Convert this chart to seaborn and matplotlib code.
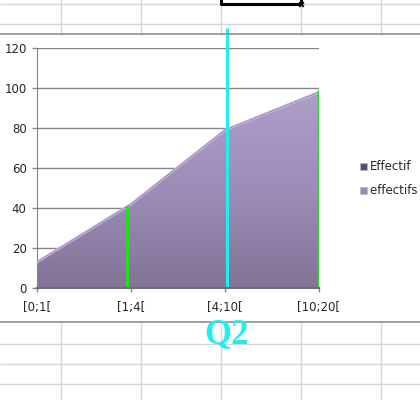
import numpy as np
import pandas as pd
import seaborn as sns
import matplotlib.pyplot as plt
from matplotlib.lines import Line2D
from matplotlib.patches import Rectangle, Polygon
from matplotlib.colors import LinearSegmentedColormap

# data
classes = ["[0;1[", "[1;4[", "[4;10[", "[10;20["]
effectifs_cumules = [13, 42, 79, 98]
legend_labels = ["Effectif", "effectifs cumulés"]

sns.set_style("white")
plt.rcParams["font.family"] = ["DejaVu Sans"]

W, H = 420, 400
fig = plt.figure(figsize=(W / 100, H / 100), dpi=100)
fig.patch.set_facecolor("white")

def fx(px):
    return px / W

def fy(py):
    return 1 - py / H

# spreadsheet grid around the chart object
grid_col = "#d6d6d6"
for y in [4, 24, 344, 364, 384]:
    fig.add_artist(Line2D([0, 1], [fy(y), fy(y)], color=grid_col, lw=1))
for x in [61, 141, 221, 301, 381]:
    for y0, y1 in [(0, 34), (322, 400)]:
        fig.add_artist(Line2D([fx(x), fx(x)], [fy(y0), fy(y1)], color=grid_col, lw=1))
# chart area borders
for y in [34, 322]:
    fig.add_artist(Line2D([0, 1], [fy(y), fy(y)], color="#8e8e8e", lw=1.2))
# selected cell
fig.add_artist(Line2D([fx(221), fx(221), fx(301), fx(301)], [fy(-2), fy(4), fy(4), fy(-2)],
                      color="black", lw=2.2))
fig.add_artist(Rectangle((fx(299), fy(6)), 4 / W, 4 / H, color="black", transform=fig.transFigure))

ax = fig.add_axes([fx(37), fy(288), 282 / W, 240 / H])
ax.patch.set_alpha(0)

df = pd.DataFrame({"pos": np.arange(len(classes)), "effectifs": effectifs_cumules})

# gradient area
cmap = LinearSegmentedColormap.from_list("area", ["#847397", "#9d8db8", "#ae9eca"])
grad = np.linspace(0, 1, 256).reshape(-1, 1)
img = ax.imshow(grad, extent=[0, 3, 0, 100], origin="lower", aspect="auto", cmap=cmap, zorder=2)
verts = [(0, 0)] + list(zip(df["pos"], df["effectifs"])) + [(3, 0)]
poly = Polygon(verts, closed=True, transform=ax.transData, facecolor="none", edgecolor="none")
ax.add_patch(poly)
img.set_clip_path(poly)
sns.lineplot(data=df, x="pos", y="effectifs", color="#cfc2ea", lw=1.8, ax=ax, zorder=3)
sns.lineplot(data=df, x="pos", y="effectifs", color="#9484ae", lw=0.6, ax=ax, zorder=3)

# drawn lines
ax.vlines(0.96, 0, 41, color="#22dd22", lw=2.2, zorder=4)
ax.vlines(3.0, 0, 99, color="#22dd22", lw=2.4, zorder=4)
ax.vlines(2.02, 0, 130, color="#22eeee", lw=2.2, zorder=5, clip_on=False)

ax.set_xlim(0, 3)
ax.set_ylim(0, 120)
ax.set_yticks(range(0, 121, 20))
ax.set_xticks(df["pos"])
ax.set_xticklabels(classes)
ax.set_xlabel("")
ax.set_ylabel("")
ax.grid(axis="y", color="#868686", lw=1)
ax.grid(axis="x", visible=False)
ax.set_axisbelow(True)
for s in ["top", "right"]:
    ax.spines[s].set_visible(False)
ax.spines["left"].set_color("#868686")
ax.spines["bottom"].set_color("#6e6e6e")
ax.spines["bottom"].set_linewidth(1.5)
ax.spines["bottom"].set_zorder(6)
ax.tick_params(axis="y", length=3.5, width=1, color="#868686", pad=4, labelsize=8.5, left=True)
ax.tick_params(axis="x", length=3, width=1, color="#868686", pad=6, labelsize=8.5, bottom=True)

# legend (the second label runs past the right edge, as in the reference)
legend_cols = ["#5c4a7c", "#9a8ab6"]
for i, (lab, col) in enumerate(zip(legend_labels, legend_cols)):
    yc = 166 + 24 * i
    fig.add_artist(Rectangle((fx(360), fy(yc + 3.5)), 7 / W, 7 / H, facecolor=col,
                             edgecolor="#bbbbbb", lw=0.5, transform=fig.transFigure))
    fig.text(fx(370), fy(yc), lab, va="center", ha="left", fontsize=8.5)

fig.text(fx(226), fy(343), "Q2", ha="center", va="baseline", fontsize=25,
         family=["Liberation Serif", "DejaVu Serif"], weight="bold", color="#22eeee")

fig.savefig("out.png", dpi=100)
